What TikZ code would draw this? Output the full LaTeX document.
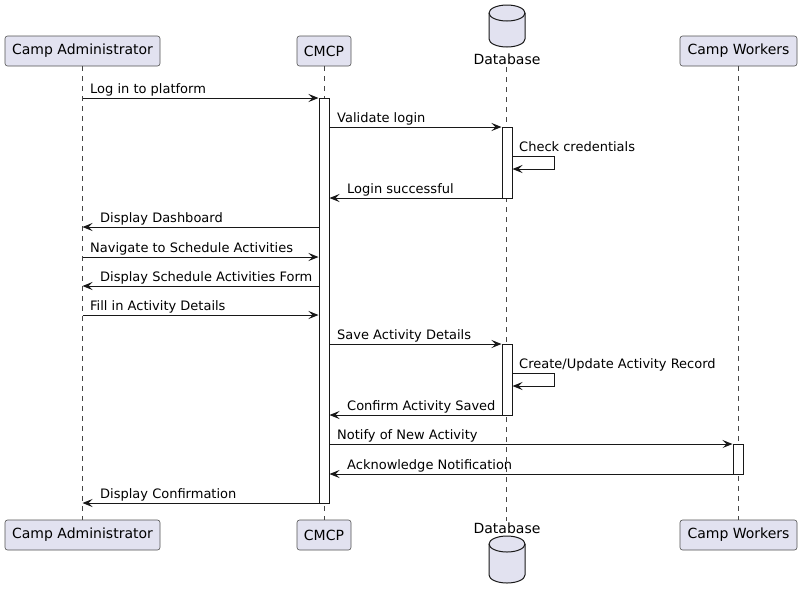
\documentclass[tikz,border=0pt]{standalone}
\usepackage{fontspec}
\setmainfont{DejaVu Sans}
\usetikzlibrary{arrows.meta}
\definecolor{pfill}{HTML}{E2E2F0}
\definecolor{ink}{HTML}{181818}
\begin{document}
\begin{tikzpicture}[x=1pt,y=-1pt,
 part/.style={draw=ink!75, fill=pfill, rounded corners=2.5pt, minimum height=30pt, inner sep=0pt, font=\fontsize{14}{16}\selectfont, line width=0.6pt},
 life/.style={draw=ink!80, dash pattern=on 5pt off 5pt, line width=0.5pt},
 act/.style={draw=ink, fill=white, line width=1pt, minimum width=10pt, inner sep=0pt, anchor=north},
 msg/.style={draw=ink, line width=1pt, -{Stealth[length=10pt,width=8pt,inset=4pt]}},
 lbl/.style={anchor=base west, inner sep=0pt, font=\fontsize{13}{15}\selectfont},
 dbl/.style={anchor=base, inner sep=0pt, font=\fontsize{14}{16}\selectfont},
 cyl/.style={draw=ink, fill=pfill, line width=1pt},
]
\useasboundingbox (0,0) rectangle (802,598);
% participants
\node[part, minimum width=155pt] (ca) at (82.5,51) {Camp Administrator};
\node[part, minimum width=54pt] (cm) at (324,51) {CMCP};
\node[part, minimum width=117pt] (cw) at (738.5,51) {Camp Workers};
\node[part, minimum width=155pt] (cab) at (82.5,535) {Camp Administrator};
\node[part, minimum width=54pt] (cmb) at (324,535) {CMCP};
\node[part, minimum width=117pt] (cwb) at (738.5,535) {Camp Workers};
\node[dbl] (db) at (507,64) {Database};
\node[dbl] (dbb) at (507,533.5) {Database};
\coordinate (dbt) at (506.5,67);
\coordinate (dbe) at (506.5,521);
% lifelines
\draw[life] (ca.south) -- (cab.north);
\draw[life] (cm.south) -- (cmb.north);
\draw[life] (dbt) -- (dbe);
\draw[life] (cw.south) -- (cwb.north);
% database cylinders
\path[cyl] (489,13) -- (489,39) arc[start angle=180,end angle=0,x radius=18,y radius=8] -- (525,13) arc[start angle=0,end angle=-180,x radius=18,y radius=8] -- cycle;
\draw[ink, line width=1pt] (489,13) arc[start angle=180,end angle=0,x radius=18,y radius=8];
\path[cyl] (489,544) -- (489,575) arc[start angle=180,end angle=0,x radius=18,y radius=8] -- (525,544) arc[start angle=0,end angle=-180,x radius=18,y radius=8] -- cycle;
\draw[ink, line width=1pt] (489,544) arc[start angle=180,end angle=0,x radius=18,y radius=8];
% activations
\node[act, minimum height=405pt] (aC) at (324,98) {};
\node[act, minimum height=71pt] (aD1) at (507,127) {};
\node[act, minimum height=71pt] (aD2) at (507,344) {};
\node[act, minimum height=30pt] (aW) at (738,444) {};
% message rows
\coordinate (m1) at (0,98);
\coordinate (m2) at (0,127);
\coordinate (m3) at (0,156);
\coordinate (m3b) at (0,169);
\coordinate (m4) at (0,198);
\coordinate (m5) at (0,227);
\coordinate (m6) at (0,257);
\coordinate (m7) at (0,286);
\coordinate (m8) at (0,315);
\coordinate (m9) at (0,344);
\coordinate (m10) at (0,373);
\coordinate (m10b) at (0,386);
\coordinate (m11) at (0,415);
\coordinate (m12) at (0,444);
\coordinate (m13) at (0,474);
\coordinate (m14) at (0,503);
% messages
\draw[msg] (ca |- m1) -- (aC.west |- m1);
\node[lbl] (t1) at (90,93.3) {Log in to platform};
\draw[msg] (aC.east |- m2) -- (aD1.west |- m2);
\node[lbl] (t2) at (337,122.3) {Validate login};
\draw[msg] (aD1.east |- m3) -- ++(42,0) |- (aD1.east |- m3b);
\node[lbl] (t3) at (519,151.3) {Check credentials};
\draw[msg] (aD1.west |- m4) -- (aC.east |- m4);
\node[lbl] (t4) at (347,193.3) {Login successful};
\draw[msg] (aC.west |- m5) -- (ca |- m5);
\node[lbl] (t5) at (100,222.3) {Display Dashboard};
\draw[msg] (ca |- m6) -- (aC.west |- m6);
\node[lbl] (t6) at (90,252.3) {Navigate to Schedule Activities};
\draw[msg] (aC.west |- m7) -- (ca |- m7);
\node[lbl] (t7) at (100,281.3) {Display Schedule Activities Form};
\draw[msg] (ca |- m8) -- (aC.west |- m8);
\node[lbl] (t8) at (90,310.3) {Fill in Activity Details};
\draw[msg] (aC.east |- m9) -- (aD2.west |- m9);
\node[lbl] (t9) at (337,339.3) {Save Activity Details};
\draw[msg] (aD2.east |- m10) -- ++(42,0) |- (aD2.east |- m10b);
\node[lbl] (t10) at (519,368.3) {Create/Update Activity Record};
\draw[msg] (aD2.west |- m11) -- (aC.east |- m11);
\node[lbl] (t11) at (347,410.3) {Confirm Activity Saved};
\draw[msg] (aC.east |- m12) -- (aW.west |- m12);
\node[lbl] (t12) at (337,439.3) {Notify of New Activity};
\draw[msg] (aW.west |- m13) -- (aC.east |- m13);
\node[lbl] (t13) at (347,469.3) {Acknowledge Notification};
\draw[msg] (aC.west |- m14) -- (ca |- m14);
\node[lbl] (t14) at (100,498.3) {Display Confirmation};
\end{tikzpicture}
\end{document}
